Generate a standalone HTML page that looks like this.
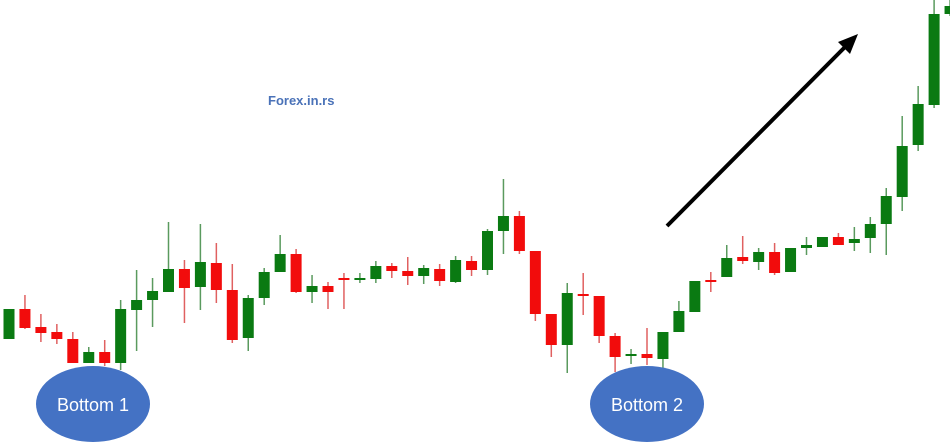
<!DOCTYPE html>
<html><head><meta charset="utf-8"><style>
html,body{margin:0;padding:0;background:#fff;}
svg{display:block;}
</style></head><body>
<svg id="chart" width="950" height="442" viewBox="0 0 950 442" xmlns="http://www.w3.org/2000/svg">
<rect x="0" y="0" width="950" height="442" fill="#fff"/>
<g id="candles"></g>
<text x="268" y="105" font-family="Liberation Sans, sans-serif" font-size="13" font-weight="bold" fill="#4a72b8">Forex.in.rs</text>
<g>
<line x1="667" y1="226" x2="845" y2="47" stroke="#000" stroke-width="4"/>
<polygon points="858,34 838,42 850,54" fill="#000"/>
</g>
<g>
<ellipse cx="93" cy="404" rx="57" ry="38" fill="#4472c4"/>
<text x="93" y="411" text-anchor="middle" font-family="Liberation Sans, sans-serif" font-size="18" fill="#fff">Bottom 1</text>
</g>
<g>
<ellipse cx="647" cy="404" rx="57" ry="38" fill="#4472c4"/>
<text x="647" y="411" text-anchor="middle" font-family="Liberation Sans, sans-serif" font-size="18" fill="#fff">Bottom 2</text>
</g>
</svg>
<script>
const opens  = [103,133,115,110,103,79,90,79,132,142,150,173,155,179,152,104,144,170,188,150,156,164,162,163,176,171,166,173,160,181,172,211,226,191,128,97,148,146,106,87,88,83,110,130,162,165,185,180,190,170,194,195,205,199,204,218,245,297,337,428];
const closes = [133,114,109,103,79,90,79,133,142,151,173,154,180,152,102,144,170,188,150,156,150,162,164,176,171,166,174,161,182,172,211,226,191,128,97,149,146,106,85,88,84,110,131,161,160,184,181,190,169,194,197,205,197,203,218,246,296,338,428,436];
const highs  = [133,147,128,118,110,95,102,142,172,164,220,182,218,199,178,147,174,207,193,167,160,169,169,181,179,185,177,178,186,186,213,263,231,191,128,159,169,146,109,93,114,110,141,161,170,197,206,194,199,194,205,205,209,215,225,254,326,356,442,442];
const lows   = [103,113,100,98,79,79,76,72,91,115,150,119,132,139,99,91,137,170,149,139,133,133,159,159,164,157,158,156,159,166,167,188,188,121,85,69,127,99,70,78,77,72,110,130,150,165,178,172,167,170,187,195,197,191,189,187,231,291,334,426];
const svgNS="http://www.w3.org/2000/svg";
const g=document.getElementById('candles');
function xPos(i){return 9+i*15.95;}
function yPos(v){return 442-v;}
for(let i=0;i<opens.length;i++){
  const up=closes[i]>=opens[i];
  const col=up?'#0a7a12':'#f20c0c';
  const wcol=up?'#5a9a5e':'#e06060';
  const x=xPos(i);
  const w=document.createElementNS(svgNS,'line');
  
  
  w.setAttribute('x1',x);w.setAttribute('x2',x);
  w.setAttribute('y1',yPos(highs[i]));w.setAttribute('y2',yPos(lows[i]));
  w.setAttribute('stroke',wcol);w.setAttribute('stroke-width','1.5');
  g.appendChild(w);
  const top=yPos(Math.max(opens[i],closes[i]));
  const bot=yPos(Math.min(opens[i],closes[i]));
  const r=document.createElementNS(svgNS,'rect');
  
  
  r.setAttribute('x',x-5.5);r.setAttribute('width',11);
  r.setAttribute('y',top);r.setAttribute('height',Math.max(2,bot-top));
  r.setAttribute('fill',col);
  g.appendChild(r);
}
</script>
</body></html>
